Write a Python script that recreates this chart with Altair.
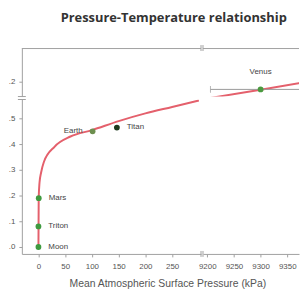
import altair as alt
import pandas as pd

# ---- data ----
bodies = ["Moon", "Triton", "Mars", "Earth", "Titan", "Venus"]
pressure_kpa = [0.0, 0.0016, 0.6, 101.3, 146.7, 9300.0]
y_value = [0.0, 0.08, 0.19, 0.45, 0.465, 1.17]
marker_colors = ["#3f9a3f", "#3f9a3f", "#3f9a3f", "#6d8f4f", "#1f3a1f", "#4a9a40"]
label_side = ["right", "right", "right", "left", "right", "top"]

fit_low_x = [0, 0.5, 2, 5, 10, 30, 60, 100, 150, 200, 250, 300]
fit_low_y = [0.0, 0.19, 0.25, 0.29, 0.33, 0.39, 0.43, 0.455, 0.49, 0.52, 0.545, 0.57]
fit_high_x = [9150, 9300, 9400]
fit_high_y = [1.117, 1.169, 1.204]

venus_err_lo = [9206]
venus_err_hi = [9396]
venus_y = [1.17]

x_ticks_left = [0, 50, 100, 150, 200, 250]
x_ticks_right = [9200, 9250, 9300, 9350]
y_ticks_low = [0, 0.1, 0.2, 0.3, 0.4, 0.5]
y_ticks_high = [1.2]

x_dom_left = [-31, 304]
x_dom_right = [9192, 9372]
y_dom_low = [-0.027, 0.574]
y_dom_high = [1.142, 1.332]

# ---- tables ----
pts = pd.DataFrame({"body": bodies, "p": pressure_kpa, "v": y_value,
                    "col": marker_colors, "side": label_side})
fit = pd.DataFrame({
    "p": fit_low_x + fit_high_x,
    "v": fit_low_y + fit_high_y,
    "seg": ["low"] * len(fit_low_x) + ["high"] * len(fit_high_x),
})
err = pd.DataFrame({"p": venus_err_lo, "p2": venus_err_hi, "v": venus_y})

LW, RW = 181, 97
UH, LH = 49, 156
AX = "#a0a0a0"
LBL = "#555555"
FONT = "Liberation Sans"


def panel(xdom, ydom, w, h, bottom, left, top, xticks, yticks, show_title):
    if bottom:
        xaxis = alt.Axis(values=xticks, format="d",
                         title=("Mean Atmospheric Surface Pressure (kPa)" if show_title else None),
                         titleX=147, titleAlign="center", titlePadding=8,
                         titleFontSize=10.5, titleFont=FONT, titleColor=LBL,
                         titleFontWeight="normal", labelPadding=6)
    else:
        xaxis = None
    if left:
        yaxis = alt.Axis(values=yticks,
                         labelExpr="substring(format(datum.value, '.1f'), 1)",
                         title=None, labelPadding=4)
    else:
        yaxis = None
    xs = alt.Scale(domain=xdom, nice=False, zero=False)
    ys = alt.Scale(domain=ydom, nice=False, zero=False)

    def X(f="p"):
        return alt.X(f"{f}:Q", scale=xs, axis=xaxis)

    def Y():
        return alt.Y("v:Q", scale=ys, axis=yaxis)

    inside = (f"datum.p >= {xdom[0]} && datum.p <= {xdom[1]} && "
              f"datum.v >= {ydom[0]} && datum.v <= {ydom[1]}")

    curve = alt.Chart(fit).mark_line(color="#e4606c", strokeWidth=2, clip=True,
                                     interpolate="monotone").encode(
        x=X(), y=Y(), detail="seg:N")
    ebar = alt.Chart(err).mark_rule(color="#9a9a9a", strokeWidth=1, clip=True).encode(
        x=X(), x2="p2:Q", y=Y())
    ecap = alt.Chart(err).mark_tick(color="#9a9a9a", orient="vertical", size=7,
                                    thickness=1, clip=True).encode(x=X(), y=Y())
    dots = alt.Chart(pts).mark_point(filled=True, size=34, opacity=1, clip=True).encode(
        x=X(), y=Y(), color=alt.Color("col:N", scale=None))
    base_txt = dict(font=FONT, fontSize=8, color="#444444")
    t_right = alt.Chart(pts).transform_filter(inside).transform_filter(
        "datum.side == 'right'").mark_text(
        align="left", baseline="middle", dx=10, **base_txt).encode(
        x=X(), y=Y(), text="body:N")
    t_left = alt.Chart(pts).transform_filter(inside).transform_filter(
        "datum.side == 'left'").mark_text(
        align="right", baseline="middle", dx=-10, **base_txt).encode(
        x=X(), y=Y(), text="body:N")
    t_top = alt.Chart(pts).transform_filter(inside).transform_filter(
        "datum.side == 'top'").mark_text(
        align="center", baseline="middle", dy=-18, **base_txt).encode(
        x=X(), y=Y(), text="body:N")

    layers = [curve, ebar, ecap, dots, t_right, t_left, t_top]

    one = pd.DataFrame({"k": [1]})
    bx = w if left else 0
    if bottom:
        layers.append(alt.Chart(one).mark_rule(color=AX, strokeWidth=1).encode(
            x=alt.value(bx), y=alt.value(h - 3), y2=alt.value(h + 3)))
    if top:
        # top frame line and its break mark
        layers.append(alt.Chart(one).mark_rule(color=AX, strokeWidth=1).encode(
            x=alt.value(0), x2=alt.value(w), y=alt.value(0.5)))
        layers.append(alt.Chart(one).mark_rule(color=AX, strokeWidth=1).encode(
            x=alt.value(bx), y=alt.value(-3), y2=alt.value(3)))
    if left:
        by = h if top else 0
        layers.append(alt.Chart(one).mark_rule(color=AX, strokeWidth=1).encode(
            y=alt.value(by), x=alt.value(-4), x2=alt.value(4)))

    return alt.layer(*layers).properties(width=w, height=h)


UL = panel(x_dom_left, y_dom_high, LW, UH, False, True, True, x_ticks_left, y_ticks_high, False)
UR = panel(x_dom_right, y_dom_high, RW, UH, False, False, True, x_ticks_right, y_ticks_high, False)
LL = panel(x_dom_left, y_dom_low, LW, LH, True, True, False, x_ticks_left, y_ticks_low, True)
LR = panel(x_dom_right, y_dom_low, RW, LH, True, False, False, x_ticks_right, y_ticks_low, False)

top_row = alt.hconcat(UL, UR, spacing=2, bounds="flush")
bot_row = alt.hconcat(LL, LR, spacing=2, bounds="flush")

chart = alt.vconcat(top_row, bot_row, spacing=1).properties(
    title=alt.TitleParams("Pressure-Temperature relationship", font="Open Sans",
                          fontWeight="bold", fontSize=13, color="#333333",
                          anchor="middle", dx=20, offset=20),
    padding={"left": 0, "top": 2, "right": 0, "bottom": 0},
).configure_view(stroke=None).configure_axis(
    grid=False, domainColor=AX, tickColor=AX, tickSize=3,
    labelFont=FONT, labelFontSize=8, labelColor=LBL,
)

chart.save("out.html", embed_options={"renderer": "svg", "actions": False})
